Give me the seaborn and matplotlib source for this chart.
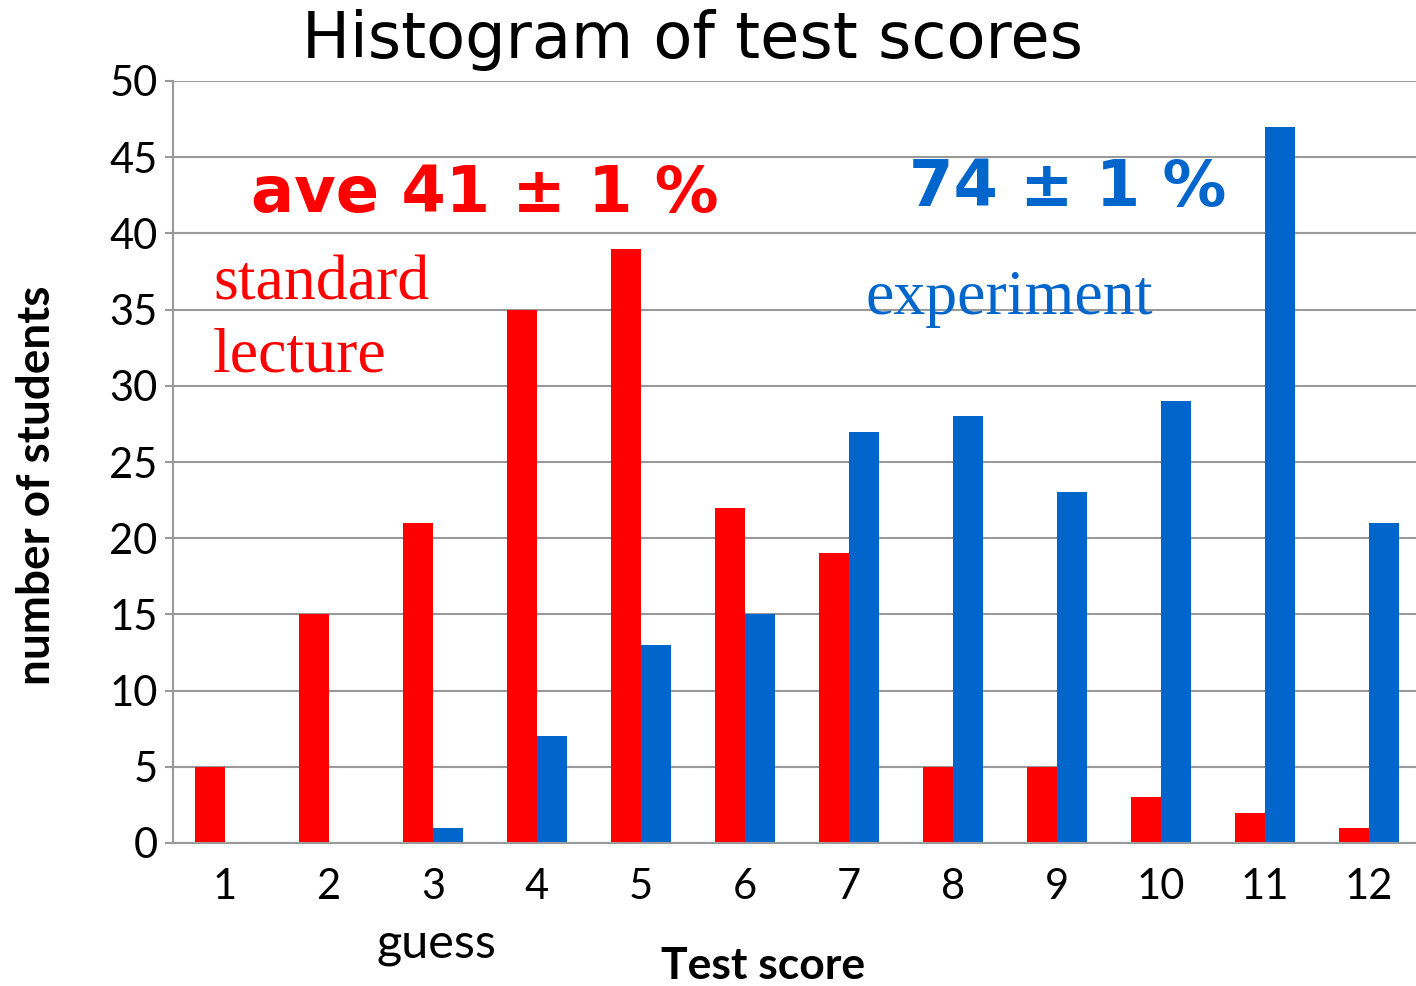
import numpy as np
import pandas as pd
import matplotlib
matplotlib.use("Agg")
import matplotlib.pyplot as plt
import seaborn as sns

sns.set_style("white")
plt.rcParams["text.color"] = "black"
plt.rcParams["xtick.color"] = "black"
plt.rcParams["ytick.color"] = "black"

# data
scores = [1, 2, 3, 4, 5, 6, 7, 8, 9, 10, 11, 12]
standard = [5, 15, 21, 35, 39, 22, 19, 5, 5, 3, 2, 1]
experiment = [0, 0, 1, 7, 13, 15, 27, 28, 23, 29, 47, 21]
groups = ["standard", "experiment"]
yticks = [0, 5, 10, 15, 20, 25, 30, 35, 40, 45, 50]

red = "#FF0000"
blue = "#0066CC"
grid_grey = "#999999"

df = pd.DataFrame({
    "score": [str(s) for s in scores] * 2,
    "count": standard + experiment,
    "group": [groups[0]] * len(scores) + [groups[1]] * len(scores),
})

fig = plt.figure(figsize=(14.16, 9.86), dpi=100)
ax = fig.add_axes([173 / 1416, 143 / 986, 1248 / 1416, 762 / 986])

sns.barplot(data=df, x="score", y="count", hue="group",
            palette=[red, blue], width=0.58, gap=0, saturation=1,
            legend=False, ax=ax, linewidth=0)

ax.set_xlim(-0.5, 11.5)
ax.set_ylim(0, 50)
ax.set_yticks(yticks)
ax.set_yticklabels([str(t) for t in yticks], fontfamily="Lato", fontsize=30)
ax.set_xticks(range(len(scores)))
ax.set_xticklabels([str(s) for s in scores], fontfamily="Lato", fontsize=30)
ax.set_xticks(np.arange(-0.5, 12, 1), minor=True)
ax.tick_params(axis="x", which="major", length=0, pad=18)
ax.tick_params(axis="x", which="minor", length=8, width=1.5, color=grid_grey, direction="out")
ax.tick_params(axis="y", which="major", length=6, width=1.5, color=grid_grey, pad=5, left=True)

ax.set_axisbelow(True)
ax.yaxis.grid(True, color=grid_grey, linewidth=1.5)
ax.xaxis.grid(False)
for side in ["top", "right"]:
    ax.spines[side].set_visible(False)
for side in ["left", "bottom"]:
    ax.spines[side].set_color(grid_grey)
    ax.spines[side].set_linewidth(1.5)

ax.set_xlabel("")
ax.set_ylabel("")

# labels and titles
fig.text(693 / 1416, 1 - 40 / 986, "Histogram of test scores", ha="center", va="center",
         fontfamily="DejaVu Sans", fontsize=46)
fig.text(37 / 1416, 1 - 485 / 986, "number of students", rotation=90, ha="center", va="center",
         fontfamily="Lato", fontweight="bold", fontsize=33)
fig.text(763 / 1416, 1 - 966 / 986, "Test score", ha="center", va="center",
         fontfamily="Lato", fontweight="bold", fontsize=32)
fig.text(436 / 1416, 1 - 944 / 986, "guess", ha="center", va="center",
         fontfamily="Lato", fontsize=35)

# annotations inside the plot
fig.text(485 / 1416, 1 - 194 / 986, "ave 41 \u00b1 1 %", ha="center", va="center",
         color=red, fontfamily="DejaVu Sans", fontweight="bold", fontsize=46)
fig.text(1068 / 1416, 1 - 188 / 986, "74 \u00b1 1 %", ha="center", va="center",
         color=blue, fontfamily="DejaVu Sans", fontweight="bold", fontsize=46)
fig.text(213 / 1416, 1 - 285 / 986, "standard", ha="left", va="center",
         color=red, fontfamily="Liberation Serif", fontsize=46)
fig.text(213 / 1416, 1 - 356 / 986, "lecture", ha="left", va="center",
         color=red, fontfamily="Liberation Serif", fontsize=46)
fig.text(865 / 1416, 1 - 299 / 986, "experiment", ha="left", va="center",
         color=blue, fontfamily="Liberation Serif", fontsize=46)

fig.savefig("out.png", dpi=100)
